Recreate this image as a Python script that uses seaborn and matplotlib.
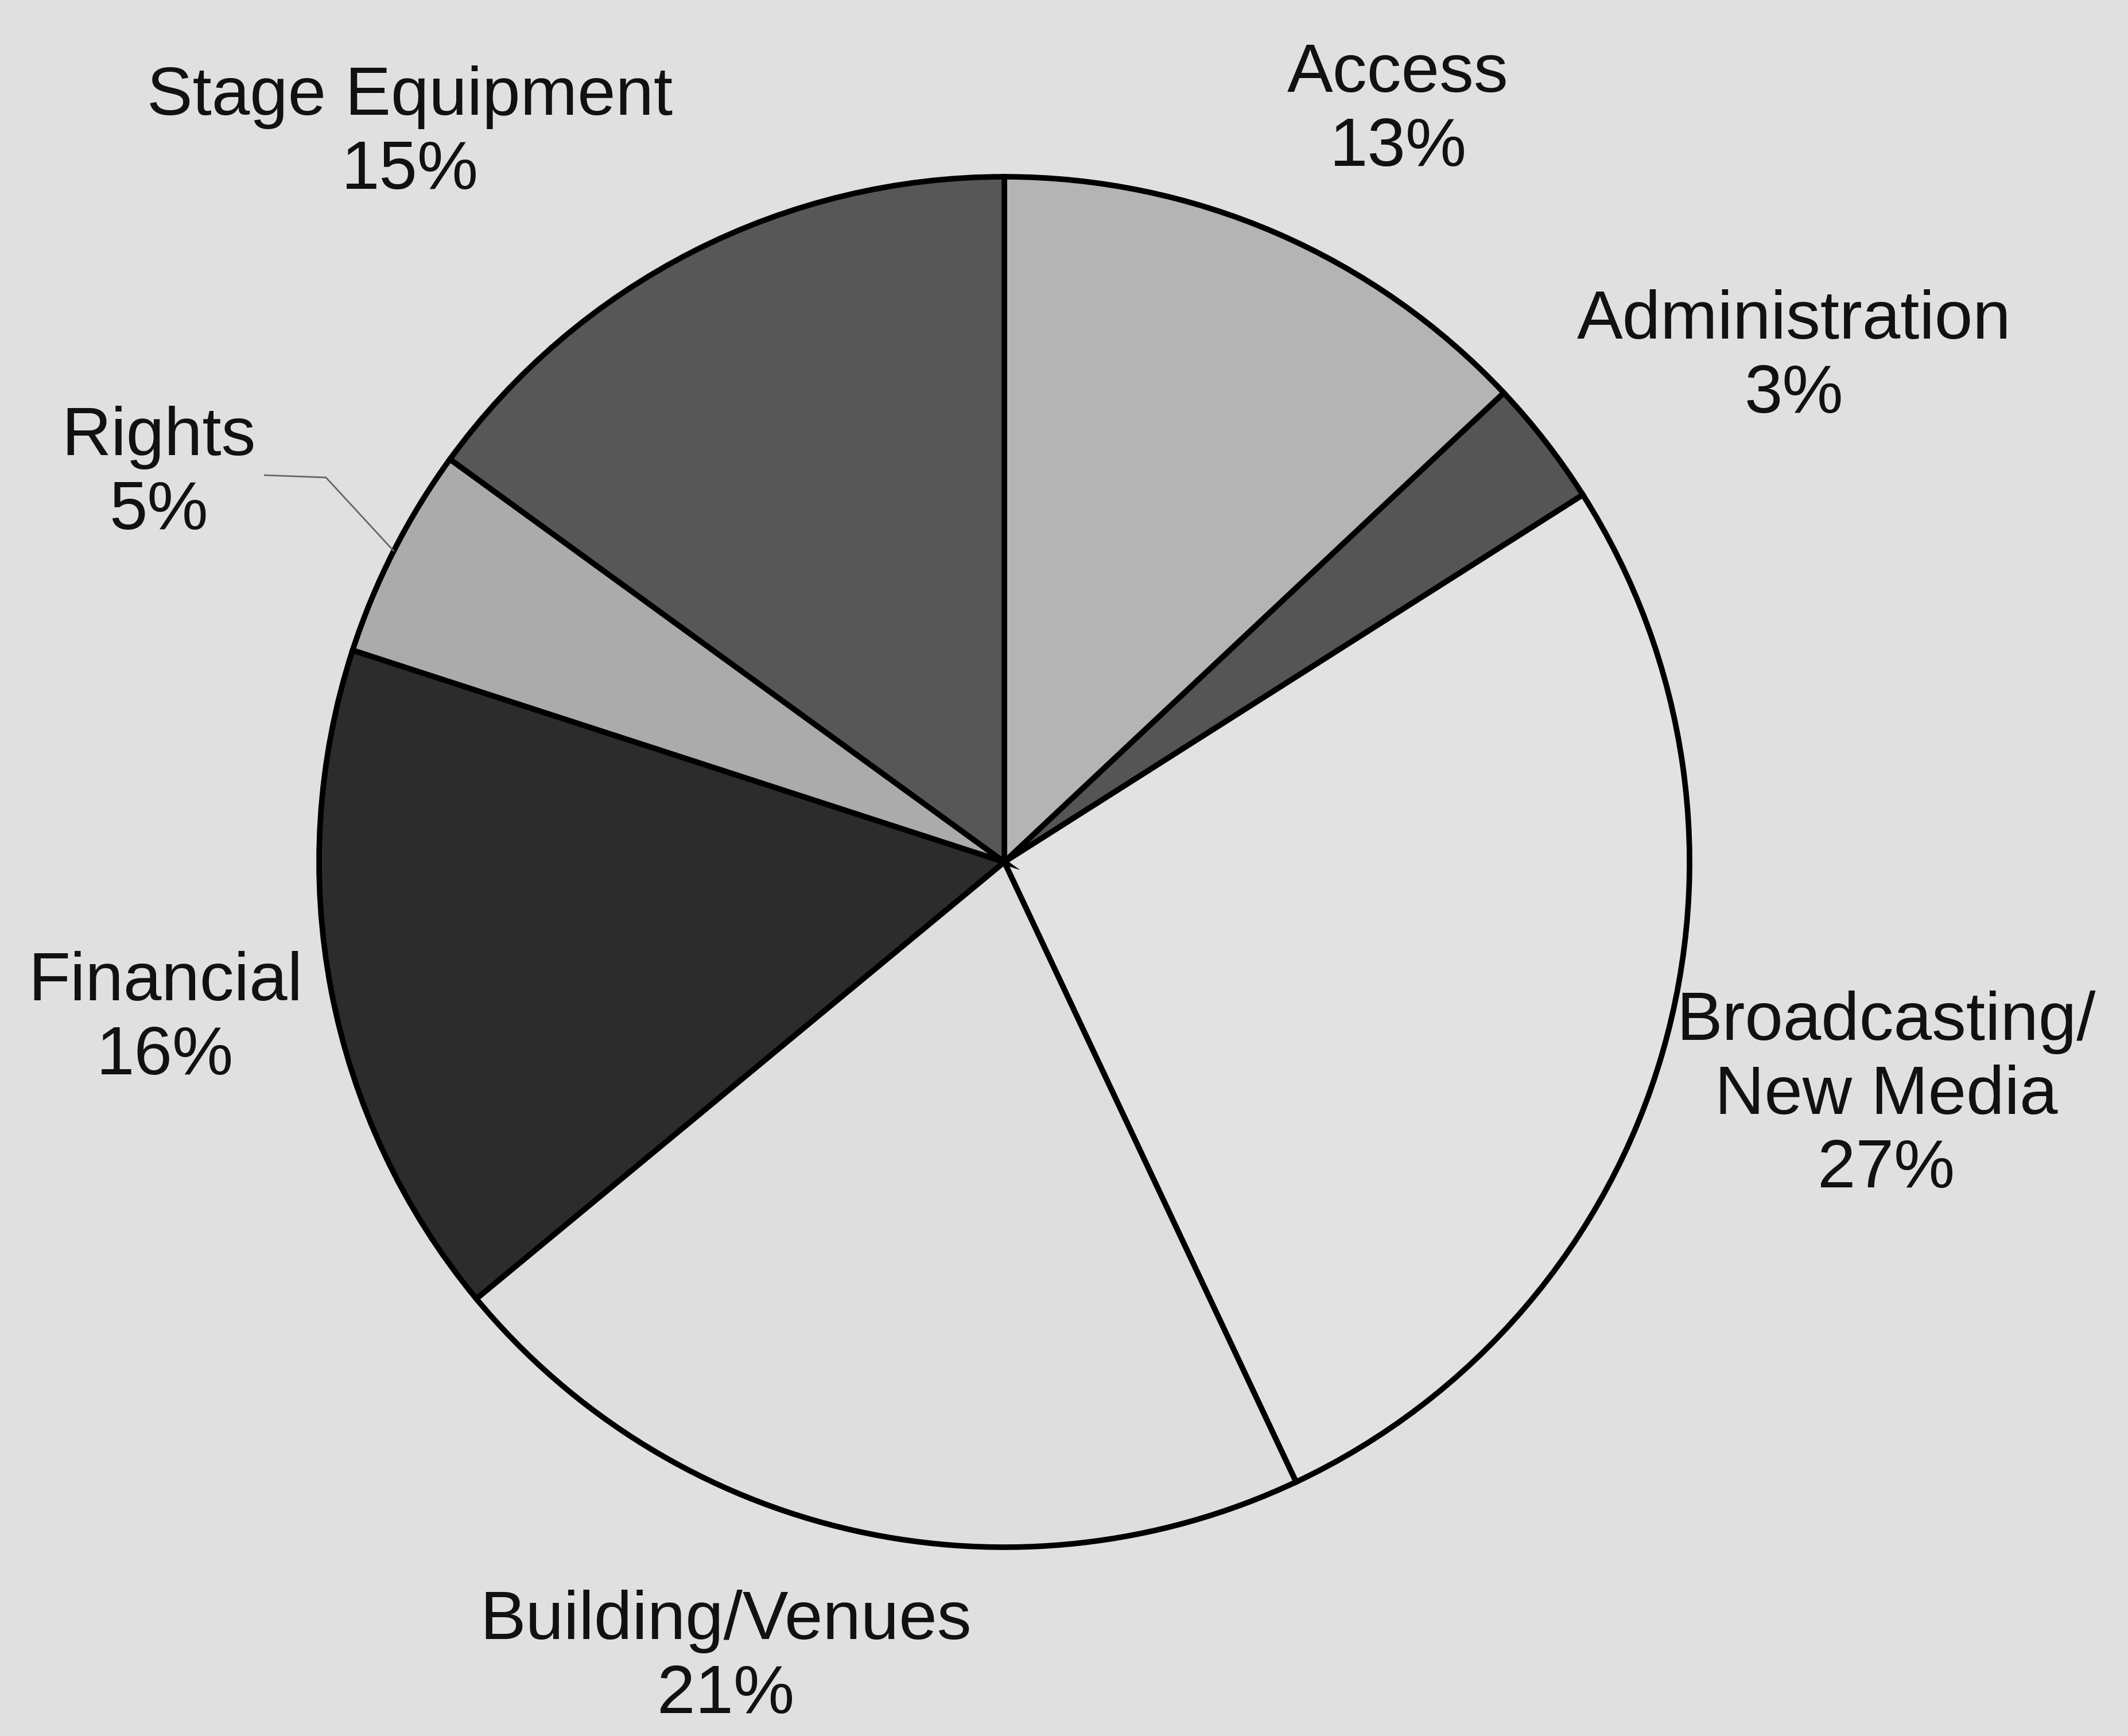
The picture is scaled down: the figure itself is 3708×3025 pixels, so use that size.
import matplotlib
matplotlib.use("Agg")
import matplotlib.pyplot as plt
import seaborn as sns

# data
categories = ["Access", "Administration", "Broadcasting/\nNew Media", "Building/Venues",
              "Financial", "Rights", "Stage Equipment"]
shares = [13, 3, 27, 21, 16, 5, 15]
slice_colors = ["#b4b4b4", "#555555", "#e2e2e2", "#dedede", "#2c2c2c", "#ababab", "#575757"]

# label centres in image pixels (x, y from top)
label_pos = [(2436, 194), (3126, 624), (3287, 1910), (1265, 2890),
             (288, 1777), (277, 827), (714, 234)]

W, H = 3708, 3025
bg = "#e0e0e0"

sns.set_style("white")
plt.rcParams["font.family"] = ["Liberation Sans", "DejaVu Sans"]

fig = plt.figure(figsize=(W / 100, H / 100), dpi=100, facecolor=bg)
ax = fig.add_axes([0, 0, 1, 1])
ax.set_facecolor(bg)

ax.pie(shares, colors=slice_colors, startangle=90, counterclock=False,
       center=(1750, H - 1502), radius=1194, frame=True,
       wedgeprops=dict(edgecolor="black", linewidth=7))

ax.set_xlim(0, W)
ax.set_ylim(0, H)
ax.set_aspect("equal")
ax.axis("off")

for name, pct, (x, y) in zip(categories, shares, label_pos):
    ax.text(x, H - y, f"{name}\n{pct}%", ha="center", va="center",
            fontsize=86, color="#111111", linespacing=1.2)

# leader line for Rights
ax.plot([461, 568, 686], [H - 828, H - 832, H - 960], color="#666666", lw=2)

fig.savefig("out.png", dpi=100, facecolor=bg)
